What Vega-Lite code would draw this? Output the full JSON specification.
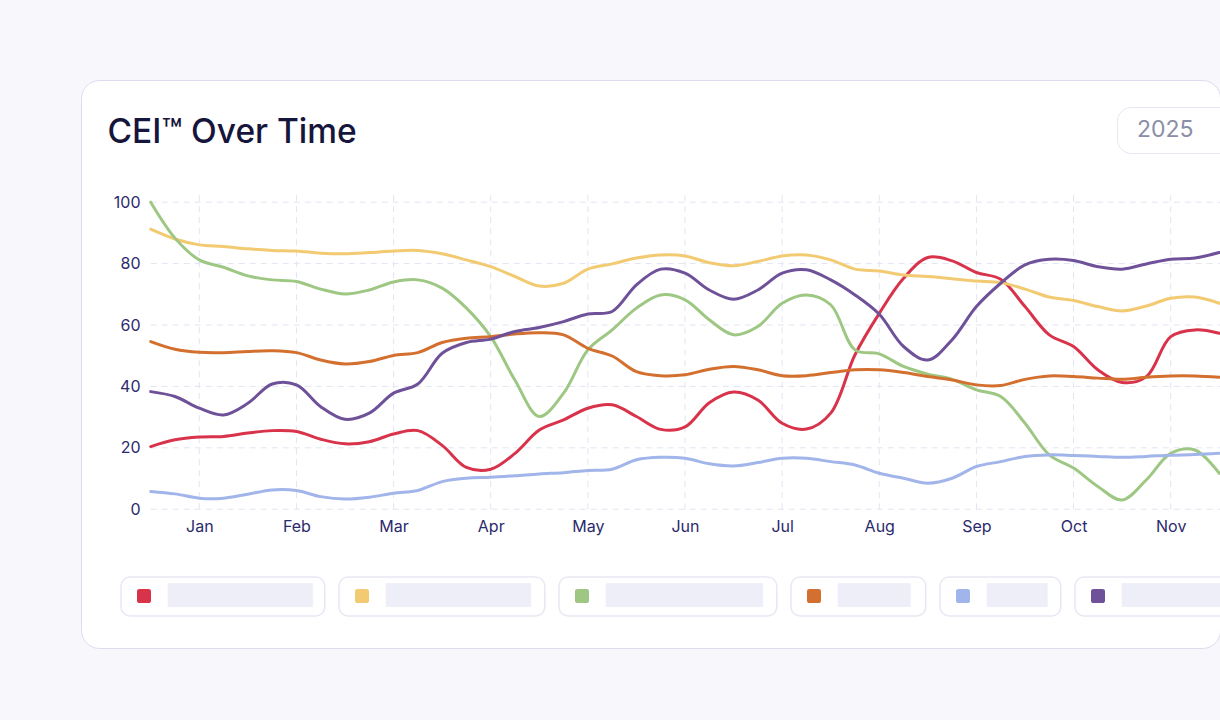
{
  "$schema": "https://vega.github.io/schema/vega-lite/v6.json",
  "autosize": {"type": "none"},
  "padding": {"left": 81, "top": 80, "right": 0, "bottom": 72},
  "width": 1139,
  "height": 568,
  "background": "#f8f8fc",
  "config": {
    "view": {"fill": "#ffffff", "stroke": "#dddcef", "strokeWidth": 1, "cornerRadius": 18},
    "axis": {"domain": false, "ticks": false, "grid": false, "labelFont": "Inter", "labelFontSize": 16, "labelColor": "#2b2a6c"}
  },
  "datasets": {
    "gridY": [{"v": 0}, {"v": 20}, {"v": 40}, {"v": 60}, {"v": 80}, {"v": 100}],
    "gridX": [{"m": 1}, {"m": 2}, {"m": 3}, {"m": 4}, {"m": 5}, {"m": 6}, {"m": 7}, {"m": 8}, {"m": 9}, {"m": 10}, {"m": 11}],
    "cei": [
      {"series": "Series 1", "month": 0.5, "cei": 20.4}, {"series": "Series 1", "month": 0.75, "cei": 22.6}, {"series": "Series 1", "month": 1, "cei": 23.5}, {"series": "Series 1", "month": 1.25, "cei": 23.7}, {"series": "Series 1", "month": 1.5, "cei": 24.8}, {"series": "Series 1", "month": 1.75, "cei": 25.6}, {"series": "Series 1", "month": 2, "cei": 25.3}, {"series": "Series 1", "month": 2.25, "cei": 22.8}, {"series": "Series 1", "month": 2.5, "cei": 21.3}, {"series": "Series 1", "month": 2.75, "cei": 22},
      {"series": "Series 1", "month": 3, "cei": 24.5}, {"series": "Series 1", "month": 3.25, "cei": 25.6}, {"series": "Series 1", "month": 3.5, "cei": 20.8}, {"series": "Series 1", "month": 3.75, "cei": 13.6}, {"series": "Series 1", "month": 4, "cei": 13}, {"series": "Series 1", "month": 4.25, "cei": 18.2}, {"series": "Series 1", "month": 4.5, "cei": 25.8}, {"series": "Series 1", "month": 4.75, "cei": 29.1}, {"series": "Series 1", "month": 5, "cei": 32.9}, {"series": "Series 1", "month": 5.25, "cei": 34},
      {"series": "Series 1", "month": 5.5, "cei": 30.2}, {"series": "Series 1", "month": 5.75, "cei": 26}, {"series": "Series 1", "month": 6, "cei": 26.8}, {"series": "Series 1", "month": 6.25, "cei": 34.7}, {"series": "Series 1", "month": 6.5, "cei": 38.2}, {"series": "Series 1", "month": 6.75, "cei": 35.6}, {"series": "Series 1", "month": 7, "cei": 28}, {"series": "Series 1", "month": 7.25, "cei": 26.1}, {"series": "Series 1", "month": 7.5, "cei": 31.3}, {"series": "Series 1", "month": 7.75, "cei": 50.3},
      {"series": "Series 1", "month": 8, "cei": 63.8}, {"series": "Series 1", "month": 8.25, "cei": 75.2}, {"series": "Series 1", "month": 8.5, "cei": 82}, {"series": "Series 1", "month": 8.75, "cei": 80.9}, {"series": "Series 1", "month": 9, "cei": 77.1}, {"series": "Series 1", "month": 9.25, "cei": 74.9}, {"series": "Series 1", "month": 9.5, "cei": 66}, {"series": "Series 1", "month": 9.75, "cei": 56.8}, {"series": "Series 1", "month": 10, "cei": 53}, {"series": "Series 1", "month": 10.25, "cei": 45.4},
      {"series": "Series 1", "month": 10.5, "cei": 41.3}, {"series": "Series 1", "month": 10.75, "cei": 43.2}, {"series": "Series 1", "month": 11, "cei": 56.2}, {"series": "Series 1", "month": 11.25, "cei": 58.4}, {"series": "Series 1", "month": 11.5, "cei": 57.3},

      {"series": "Series 2", "month": 0.5, "cei": 91.2}, {"series": "Series 2", "month": 0.75, "cei": 88}, {"series": "Series 2", "month": 1, "cei": 86.1}, {"series": "Series 2", "month": 1.25, "cei": 85.6}, {"series": "Series 2", "month": 1.5, "cei": 84.8}, {"series": "Series 2", "month": 1.75, "cei": 84.3}, {"series": "Series 2", "month": 2, "cei": 84.1}, {"series": "Series 2", "month": 2.25, "cei": 83.4}, {"series": "Series 2", "month": 2.5, "cei": 83.2}, {"series": "Series 2", "month": 2.75, "cei": 83.6},
      {"series": "Series 2", "month": 3, "cei": 84.1}, {"series": "Series 2", "month": 3.25, "cei": 84.3}, {"series": "Series 2", "month": 3.5, "cei": 83.2}, {"series": "Series 2", "month": 3.75, "cei": 81.2}, {"series": "Series 2", "month": 4, "cei": 79}, {"series": "Series 2", "month": 4.25, "cei": 75.8}, {"series": "Series 2", "month": 4.5, "cei": 72.7}, {"series": "Series 2", "month": 4.75, "cei": 73.6}, {"series": "Series 2", "month": 5, "cei": 78.2}, {"series": "Series 2", "month": 5.25, "cei": 79.9},
      {"series": "Series 2", "month": 5.5, "cei": 81.8}, {"series": "Series 2", "month": 5.75, "cei": 82.8}, {"series": "Series 2", "month": 6, "cei": 82.5}, {"series": "Series 2", "month": 6.25, "cei": 80.3}, {"series": "Series 2", "month": 6.5, "cei": 79.3}, {"series": "Series 2", "month": 6.75, "cei": 80.7}, {"series": "Series 2", "month": 7, "cei": 82.5}, {"series": "Series 2", "month": 7.25, "cei": 82.8}, {"series": "Series 2", "month": 7.5, "cei": 81.2}, {"series": "Series 2", "month": 7.75, "cei": 78.2},
      {"series": "Series 2", "month": 8, "cei": 77.6}, {"series": "Series 2", "month": 8.25, "cei": 76.3}, {"series": "Series 2", "month": 8.5, "cei": 75.8}, {"series": "Series 2", "month": 8.75, "cei": 75.1}, {"series": "Series 2", "month": 9, "cei": 74.3}, {"series": "Series 2", "month": 9.25, "cei": 73.8}, {"series": "Series 2", "month": 9.5, "cei": 71.7}, {"series": "Series 2", "month": 9.75, "cei": 69.1}, {"series": "Series 2", "month": 10, "cei": 68}, {"series": "Series 2", "month": 10.25, "cei": 66},
      {"series": "Series 2", "month": 10.5, "cei": 64.6}, {"series": "Series 2", "month": 10.75, "cei": 66.2}, {"series": "Series 2", "month": 11, "cei": 68.7}, {"series": "Series 2", "month": 11.25, "cei": 69.1}, {"series": "Series 2", "month": 11.5, "cei": 67.1},

      {"series": "Series 3", "month": 0.5, "cei": 100}, {"series": "Series 3", "month": 0.75, "cei": 88.3}, {"series": "Series 3", "month": 1, "cei": 81.2}, {"series": "Series 3", "month": 1.25, "cei": 78.8}, {"series": "Series 3", "month": 1.5, "cei": 76}, {"series": "Series 3", "month": 1.75, "cei": 74.7}, {"series": "Series 3", "month": 2, "cei": 74.2}, {"series": "Series 3", "month": 2.25, "cei": 71.7}, {"series": "Series 3", "month": 2.5, "cei": 70.1}, {"series": "Series 3", "month": 2.75, "cei": 71.4},
      {"series": "Series 3", "month": 3, "cei": 74}, {"series": "Series 3", "month": 3.25, "cei": 74.7}, {"series": "Series 3", "month": 3.5, "cei": 72}, {"series": "Series 3", "month": 3.75, "cei": 65.5}, {"series": "Series 3", "month": 4, "cei": 56.2}, {"series": "Series 3", "month": 4.25, "cei": 42}, {"series": "Series 3", "month": 4.5, "cei": 30.2}, {"series": "Series 3", "month": 4.75, "cei": 37.8}, {"series": "Series 3", "month": 5, "cei": 51.9}, {"series": "Series 3", "month": 5.25, "cei": 58.4},
      {"series": "Series 3", "month": 5.5, "cei": 65.5}, {"series": "Series 3", "month": 5.75, "cei": 69.8}, {"series": "Series 3", "month": 6, "cei": 68.2}, {"series": "Series 3", "month": 6.25, "cei": 61.7}, {"series": "Series 3", "month": 6.5, "cei": 56.8}, {"series": "Series 3", "month": 6.75, "cei": 59.5}, {"series": "Series 3", "month": 7, "cei": 67.1}, {"series": "Series 3", "month": 7.25, "cei": 69.8}, {"series": "Series 3", "month": 7.5, "cei": 66.6}, {"series": "Series 3", "month": 7.75, "cei": 51.9},
      {"series": "Series 3", "month": 8, "cei": 50.6}, {"series": "Series 3", "month": 8.25, "cei": 46.5}, {"series": "Series 3", "month": 8.5, "cei": 44}, {"series": "Series 3", "month": 8.75, "cei": 42.3}, {"series": "Series 3", "month": 9, "cei": 38.9}, {"series": "Series 3", "month": 9.25, "cei": 36.7}, {"series": "Series 3", "month": 9.5, "cei": 28}, {"series": "Series 3", "month": 9.75, "cei": 17.7}, {"series": "Series 3", "month": 10, "cei": 13.4}, {"series": "Series 3", "month": 10.25, "cei": 7.4},
      {"series": "Series 3", "month": 10.5, "cei": 3}, {"series": "Series 3", "month": 10.75, "cei": 9.6}, {"series": "Series 3", "month": 11, "cei": 18.2}, {"series": "Series 3", "month": 11.25, "cei": 19.3}, {"series": "Series 3", "month": 11.5, "cei": 11.7},

      {"series": "Series 4", "month": 0.5, "cei": 54.6}, {"series": "Series 4", "month": 0.75, "cei": 52.1}, {"series": "Series 4", "month": 1, "cei": 51.1}, {"series": "Series 4", "month": 1.25, "cei": 51}, {"series": "Series 4", "month": 1.5, "cei": 51.4}, {"series": "Series 4", "month": 1.75, "cei": 51.6}, {"series": "Series 4", "month": 2, "cei": 51}, {"series": "Series 4", "month": 2.25, "cei": 48.6}, {"series": "Series 4", "month": 2.5, "cei": 47.3}, {"series": "Series 4", "month": 2.75, "cei": 48.1},
      {"series": "Series 4", "month": 3, "cei": 50.1}, {"series": "Series 4", "month": 3.25, "cei": 51}, {"series": "Series 4", "month": 3.5, "cei": 54.3}, {"series": "Series 4", "month": 3.75, "cei": 55.7}, {"series": "Series 4", "month": 4, "cei": 56.2}, {"series": "Series 4", "month": 4.25, "cei": 57.1}, {"series": "Series 4", "month": 4.5, "cei": 57.5}, {"series": "Series 4", "month": 4.75, "cei": 56.8}, {"series": "Series 4", "month": 5, "cei": 52.4}, {"series": "Series 4", "month": 5.25, "cei": 49.9},
      {"series": "Series 4", "month": 5.5, "cei": 44.8}, {"series": "Series 4", "month": 5.75, "cei": 43.5}, {"series": "Series 4", "month": 6, "cei": 43.8}, {"series": "Series 4", "month": 6.25, "cei": 45.6}, {"series": "Series 4", "month": 6.5, "cei": 46.5}, {"series": "Series 4", "month": 6.75, "cei": 45.4}, {"series": "Series 4", "month": 7, "cei": 43.5}, {"series": "Series 4", "month": 7.25, "cei": 43.5}, {"series": "Series 4", "month": 7.5, "cei": 44.5}, {"series": "Series 4", "month": 7.75, "cei": 45.4},
      {"series": "Series 4", "month": 8, "cei": 45.4}, {"series": "Series 4", "month": 8.25, "cei": 44.5}, {"series": "Series 4", "month": 8.5, "cei": 43.2}, {"series": "Series 4", "month": 8.75, "cei": 42.1}, {"series": "Series 4", "month": 9, "cei": 40.5}, {"series": "Series 4", "month": 9.25, "cei": 40.3}, {"series": "Series 4", "month": 9.5, "cei": 42.3}, {"series": "Series 4", "month": 9.75, "cei": 43.4}, {"series": "Series 4", "month": 10, "cei": 43.2}, {"series": "Series 4", "month": 10.25, "cei": 42.7},
      {"series": "Series 4", "month": 10.5, "cei": 42.3}, {"series": "Series 4", "month": 10.75, "cei": 43}, {"series": "Series 4", "month": 11, "cei": 43.4}, {"series": "Series 4", "month": 11.25, "cei": 43.4}, {"series": "Series 4", "month": 11.5, "cei": 43},

      {"series": "Series 5", "month": 0.5, "cei": 5.8}, {"series": "Series 5", "month": 0.75, "cei": 5}, {"series": "Series 5", "month": 1, "cei": 3.6}, {"series": "Series 5", "month": 1.25, "cei": 3.6}, {"series": "Series 5", "month": 1.5, "cei": 4.9}, {"series": "Series 5", "month": 1.75, "cei": 6.3}, {"series": "Series 5", "month": 2, "cei": 6.1}, {"series": "Series 5", "month": 2.25, "cei": 4.1}, {"series": "Series 5", "month": 2.5, "cei": 3.3}, {"series": "Series 5", "month": 2.75, "cei": 3.9},
      {"series": "Series 5", "month": 3, "cei": 5.2}, {"series": "Series 5", "month": 3.25, "cei": 6.1}, {"series": "Series 5", "month": 3.5, "cei": 9}, {"series": "Series 5", "month": 3.75, "cei": 10.1}, {"series": "Series 5", "month": 4, "cei": 10.4}, {"series": "Series 5", "month": 4.25, "cei": 10.9}, {"series": "Series 5", "month": 4.5, "cei": 11.5}, {"series": "Series 5", "month": 4.75, "cei": 11.9}, {"series": "Series 5", "month": 5, "cei": 12.6}, {"series": "Series 5", "month": 5.25, "cei": 13},
      {"series": "Series 5", "month": 5.5, "cei": 16.1}, {"series": "Series 5", "month": 5.75, "cei": 16.9}, {"series": "Series 5", "month": 6, "cei": 16.6}, {"series": "Series 5", "month": 6.25, "cei": 14.8}, {"series": "Series 5", "month": 6.5, "cei": 14.1}, {"series": "Series 5", "month": 6.75, "cei": 15.2}, {"series": "Series 5", "month": 7, "cei": 16.6}, {"series": "Series 5", "month": 7.25, "cei": 16.6}, {"series": "Series 5", "month": 7.5, "cei": 15.5}, {"series": "Series 5", "month": 7.75, "cei": 14.4},
      {"series": "Series 5", "month": 8, "cei": 11.7}, {"series": "Series 5", "month": 8.25, "cei": 10.1}, {"series": "Series 5", "month": 8.5, "cei": 8.5}, {"series": "Series 5", "month": 8.75, "cei": 10.1}, {"series": "Series 5", "month": 9, "cei": 13.9}, {"series": "Series 5", "month": 9.25, "cei": 15.5}, {"series": "Series 5", "month": 9.5, "cei": 17.2}, {"series": "Series 5", "month": 9.75, "cei": 17.7}, {"series": "Series 5", "month": 10, "cei": 17.5}, {"series": "Series 5", "month": 10.25, "cei": 17.2},
      {"series": "Series 5", "month": 10.5, "cei": 16.9}, {"series": "Series 5", "month": 10.75, "cei": 17.2}, {"series": "Series 5", "month": 11, "cei": 17.6}, {"series": "Series 5", "month": 11.25, "cei": 17.8}, {"series": "Series 5", "month": 11.5, "cei": 18.2},

      {"series": "Series 6", "month": 0.5, "cei": 38.3}, {"series": "Series 6", "month": 0.75, "cei": 36.7}, {"series": "Series 6", "month": 1, "cei": 32.9}, {"series": "Series 6", "month": 1.25, "cei": 30.7}, {"series": "Series 6", "month": 1.5, "cei": 34.5}, {"series": "Series 6", "month": 1.75, "cei": 40.8}, {"series": "Series 6", "month": 2, "cei": 40.5}, {"series": "Series 6", "month": 2.25, "cei": 33.4}, {"series": "Series 6", "month": 2.5, "cei": 29.3}, {"series": "Series 6", "month": 2.75, "cei": 31.3},
      {"series": "Series 6", "month": 3, "cei": 37.8}, {"series": "Series 6", "month": 3.25, "cei": 40.8}, {"series": "Series 6", "month": 3.5, "cei": 50.8}, {"series": "Series 6", "month": 3.75, "cei": 54.3}, {"series": "Series 6", "month": 4, "cei": 55.4}, {"series": "Series 6", "month": 4.25, "cei": 57.9}, {"series": "Series 6", "month": 4.5, "cei": 59.2}, {"series": "Series 6", "month": 4.75, "cei": 61.1}, {"series": "Series 6", "month": 5, "cei": 63.6}, {"series": "Series 6", "month": 5.25, "cei": 64.4},
      {"series": "Series 6", "month": 5.5, "cei": 73.1}, {"series": "Series 6", "month": 5.75, "cei": 78.2}, {"series": "Series 6", "month": 6, "cei": 76.9}, {"series": "Series 6", "month": 6.25, "cei": 71.4}, {"series": "Series 6", "month": 6.5, "cei": 68.4}, {"series": "Series 6", "month": 6.75, "cei": 71.4}, {"series": "Series 6", "month": 7, "cei": 76.9}, {"series": "Series 6", "month": 7.25, "cei": 78}, {"series": "Series 6", "month": 7.5, "cei": 74.7}, {"series": "Series 6", "month": 7.75, "cei": 69.8},
      {"series": "Series 6", "month": 8, "cei": 63.5}, {"series": "Series 6", "month": 8.25, "cei": 53}, {"series": "Series 6", "month": 8.5, "cei": 48.6}, {"series": "Series 6", "month": 8.75, "cei": 55.2}, {"series": "Series 6", "month": 9, "cei": 66}, {"series": "Series 6", "month": 9.25, "cei": 73.6}, {"series": "Series 6", "month": 9.5, "cei": 79.6}, {"series": "Series 6", "month": 9.75, "cei": 81.4}, {"series": "Series 6", "month": 10, "cei": 81}, {"series": "Series 6", "month": 10.25, "cei": 79},
      {"series": "Series 6", "month": 10.5, "cei": 78.2}, {"series": "Series 6", "month": 10.75, "cei": 79.9}, {"series": "Series 6", "month": 11, "cei": 81.4}, {"series": "Series 6", "month": 11.25, "cei": 81.8}, {"series": "Series 6", "month": 11.5, "cei": 83.6}
    ]
  },
  "layer": [
    {
      "data": {"name": "gridY"},
      "mark": {"type": "rule", "color": "#e3e4f3", "strokeWidth": 1, "strokeDash": [6, 5]},
      "encoding": {
        "y": {"field": "v", "type": "quantitative", "scale": {"domain": [-45.2, 139.8], "nice": false, "zero": false}},
        "x": {"datum": 0.5, "type": "quantitative", "scale": {"domain": [-0.2178, 11.5075], "nice": false, "zero": false}},
        "x2": {"datum": 11.5075}
      }
    },
    {
      "data": {"name": "gridX"},
      "mark": {"type": "rule", "color": "#e3e4f3", "strokeWidth": 1, "strokeDash": [6, 5]},
      "encoding": {
        "x": {"field": "m", "type": "quantitative"},
        "y": {"datum": 0, "type": "quantitative"},
        "y2": {"datum": 103}
      }
    },
    {
      "data": {"name": "cei"},
      "mark": {"type": "line", "interpolate": "catmull-rom", "strokeWidth": 3, "strokeCap": "round"},
      "encoding": {
        "x": {
          "field": "month",
          "type": "quantitative",
          "axis": {
            "values": [1, 2, 3, 4, 5, 6, 7, 8, 9, 10, 11],
            "labelExpr": "['', 'Jan', 'Feb', 'Mar', 'Apr', 'May', 'Jun', 'Jul', 'Aug', 'Sep', 'Oct', 'Nov', 'Dec'][datum.value]",
            "offset": -138.7,
            "labelPadding": 9,
            "title": null
          }
        },
        "y": {
          "field": "cei",
          "type": "quantitative",
          "axis": {
            "values": [0, 20, 40, 60, 80, 100],
            "offset": -72,
            "labelPadding": 13,
            "title": "CEI™ Over Time",
            "titleAngle": 0,
            "titleAlign": "left",
            "titleBaseline": "alphabetic",
            "titleX": -46,
            "titleY": 62,
            "titleFont": "Inter",
            "titleFontSize": 33.5,
            "titleFontWeight": 500,
            "titleColor": "#16153b"
          }
        },
        "color": {
          "field": "series",
          "type": "nominal",
          "scale": {
            "domain": ["Series 1", "Series 2", "Series 3", "Series 4", "Series 5", "Series 6"],
            "range": ["#d8334a", "#f2ca72", "#9dc783", "#d4702f", "#a1b5ea", "#6e5199"]
          },
          "legend": {
            "orient": "none",
            "legendX": 40,
            "legendY": 497,
            "direction": "horizontal",
            "columns": 6,
            "title": null,
            "symbolType": "square",
            "symbolSize": 196,
            "symbolStrokeWidth": 0,
            "labelFont": "DejaVu Sans Mono",
            "labelFontSize": 20,
            "labelColor": "#eeeef8",
            "labelLimit": 400,
            "columnPadding": 13,
            "labelExpr": "{'Series 1': '████████████', 'Series 2': '████████████', 'Series 3': '█████████████', 'Series 4': '██████', 'Series 5': '█████', 'Series 6': '██████████'}[datum.label]",
            "encode": {
              "entries": {
                "update": {
                  "fill": {"value": "#ffffff"},
                  "stroke": {"value": "#e8e8f4"},
                  "strokeWidth": {"value": 1.5},
                  "cornerRadius": {"value": 9}
                }
              },
              "symbols": {
                "update": {
                  "x": {"value": 23},
                  "y": {"value": 19},
                  "shape": {"signal": "'M-1,-0.6C-1,-0.9 -0.9,-1 -0.6,-1L0.6,-1C0.9,-1 1,-0.9 1,-0.6L1,0.6C1,0.9 0.9,1 0.6,1L-0.6,1C-0.9,1 -1,0.9 -1,0.6Z M-3.2857,-2.7143 M' + (([204, 206, 218, 135, 121, 180][datum.index] - 24) / 7) + ',2.7143'"},
                  "fill": {"scale": "color", "field": "value"},
                  "fillOpacity": {"value": 1}
                }
              },
              "labels": {
                "update": {
                  "x": {"value": 47},
                  "y": {"value": 19}
                }
              }
            }
          }
        }
      }
    },
    {
      "data": {"name": "cei"},
      "mark": {"type": "point", "opacity": 0},
      "encoding": {
        "x": {"field": "month", "type": "quantitative"},
        "y": {"field": "cei", "type": "quantitative"},
        "shape": {
          "datum": "2025",
          "type": "nominal",
          "legend": {
            "orient": "none",
            "legendX": 1036,
            "legendY": 27,
            "title": "████████",
            "titleOrient": "right",
            "titleFont": "DejaVu Sans Mono",
            "titleFontSize": 12,
            "titleColor": "#ffffff",
            "titlePadding": 4,
            "strokeColor": "#e7e7f3",
            "fillColor": "#ffffff",
            "cornerRadius": 14,
            "padding": 11,
            "symbolSize": 0,
            "labelOffset": -14,
            "labelFont": "Inter",
            "labelFontSize": 23,
            "labelColor": "#8a8ea6"
          }
        }
      }
    }
  ]
}
